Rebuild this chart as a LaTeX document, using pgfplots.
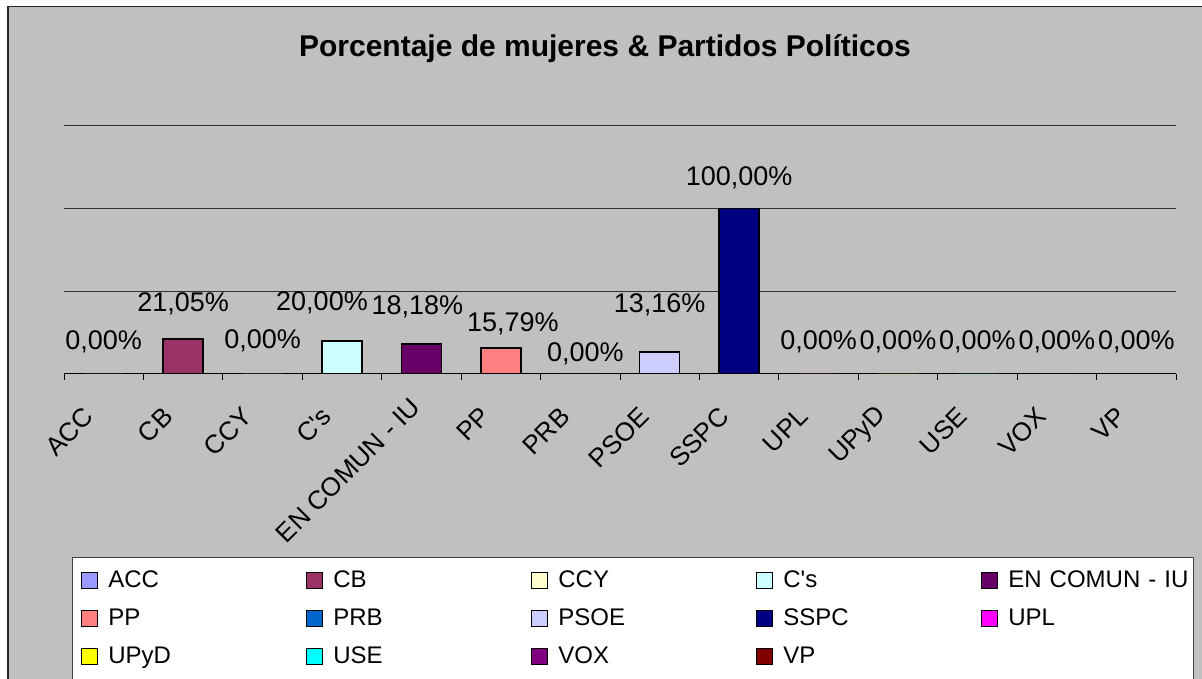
\documentclass[border=0pt]{standalone}
\usepackage{fontspec}
\setmainfont{Liberation Sans}
\usepackage{pgfplots}
\pgfplotsset{compat=1.18}
\definecolor{bg}{HTML}{C0C0C0}
\definecolor{cACC}{HTML}{9999FF}
\definecolor{cCB}{HTML}{993366}
\definecolor{cCCY}{HTML}{FFFFCC}
\definecolor{cCs}{HTML}{CCFFFF}
\definecolor{cEN}{HTML}{660066}
\definecolor{cPP}{HTML}{FF8080}
\definecolor{cPRB}{HTML}{0066CC}
\definecolor{cPSOE}{HTML}{CCCCFF}
\definecolor{cSSPC}{HTML}{000080}
\definecolor{cUPL}{HTML}{FF00FF}
\definecolor{cUPyD}{HTML}{FFFF00}
\definecolor{cUSE}{HTML}{00FFFF}
\definecolor{cVOX}{HTML}{800080}
\definecolor{cVP}{HTML}{800000}
\pgfplotsset{
  lab/.style n args={3}{nodes near coords={#1},
    every node near coord/.append style={xshift=#2, yshift=#3}},
}
\begin{document}
\begin{tikzpicture}[x=1pt,y=1pt]
\fill[white] (0,0) rectangle (1202,679);
\filldraw[fill=bg, draw=black!85, line width=1.5pt] (8,-20) rectangle (1240,672.5);
\node[anchor=base, font=\fontsize{30}{36}\selectfont\bfseries] at (605,622) {Porcentaje de mujeres \& Partidos Políticos};
\begin{axis}[
  at={(64pt,305pt)}, anchor=south west,
  scale only axis, width=1112pt, height=248pt,
  xmin=-0.5, xmax=13.5, ymin=0, ymax=150,
  enlargelimits=false,
  axis x line=bottom, axis y line=left,
  axis line style={-, black, line width=1pt},
  y axis line style={draw=none},
  ytick={50,100,150}, yticklabels={}, ytick style={draw=none},
  ymajorgrids, major grid style={black!80, line width=1pt},
  xtick={0,...,13},
  xticklabels={ACC,CB,CCY,C\textquotesingle s,EN COMUN - IU\kern-13pt,PP,PRB,PSOE,SSPC,UPL,UPyD,USE,VOX,VP},
  major x tick style={draw=none},
  minor xtick={-0.5,0.5,...,13.5},
  minor x tick style={black, line width=1pt},
  tick align=outside,
  minor tick length=6pt,
  major tick length=0pt,
  xticklabel style={font=\fontsize{26}{31}\selectfont, inner sep=0pt, xshift=-15pt, yshift=-38pt, rotate=45, anchor=east},
  ybar, bar width=40pt, bar shift=0pt,
  every node near coord/.append style={anchor=base, inner sep=0pt, font=\fontsize{27}{32}\selectfont, black},
  legend columns=5,
  legend cell align=left,
  legend style={at={(0.0072,-0.738)}, anchor=north west, draw=black!75, line width=0.8pt, fill=white,
    font=\fontsize{24}{28}\selectfont, inner xsep=2pt, inner ysep=12pt,
    nodes={inner sep=0pt, text width=183pt, text height=18pt, text depth=4pt, align=left},
    /tikz/every even column/.append style={column sep=8pt},
    row sep=16pt},
  legend image code/.code={\draw[#1, draw=black, line width=1.5pt] (0pt,-8pt) rectangle (16pt,8pt); \path[draw=none, fill=none] (-7pt,0pt) -- (27pt,0pt);},
]
\addplot[fill=cACC,  draw=none, lab={0,00\%}{0pt}{24pt}] coordinates {(0,0)};
\addplot[fill=cCB,   draw=black, line width=1.5pt, lab={21,05\%}{0pt}{28pt}] coordinates {(1,21.05)};
\addplot[fill=cCCY,  draw=none, lab={0,00\%}{0pt}{25pt}] coordinates {(2,0)};
\addplot[fill=cCs,   draw=black, line width=1.5pt, lab={20,00\%}{-20pt}{30pt}] coordinates {(3,20.00)};
\addplot[fill=cEN,   draw=black, line width=1.5pt, lab={18,18\%}{-4pt}{29pt}] coordinates {(4,18.18)};
\addplot[fill=cPP,   draw=black, line width=1.5pt, lab={15,79\%}{12pt}{16pt}] coordinates {(5,15.79)};
\addplot[fill=cPRB,  draw=none, lab={0,00\%}{5pt}{12pt}] coordinates {(6,0)};
\addplot[fill=cPSOE, draw=black, line width=1.5pt, lab={13,16\%}{0pt}{40pt}] coordinates {(7,13.16)};
\addplot[fill=cSSPC, draw=black, line width=1.5pt, lab={100,00\%}{0pt}{23pt}] coordinates {(8,100.00)};
\addplot[fill=cUPL,  draw=none, lab={0,00\%}{0pt}{24pt}] coordinates {(9,0)};
\addplot[fill=cUPyD, draw=none, lab={0,00\%}{0pt}{24pt}] coordinates {(10,0)};
\addplot[fill=cUSE,  draw=none, lab={0,00\%}{0pt}{24pt}] coordinates {(11,0)};
\addplot[fill=cVOX,  draw=none, lab={0,00\%}{0pt}{24pt}] coordinates {(12,0)};
\addplot[fill=cVP,   draw=none, lab={0,00\%}{0pt}{24pt}] coordinates {(13,0)};
\legend{ACC,CB,CCY,C\textquotesingle s,EN COMUN - IU,PP,PRB,PSOE,SSPC,UPL,UPyD,USE,VOX,VP}
\end{axis}
\pgfresetboundingbox
\useasboundingbox (0,0) rectangle (1202,679);
\end{tikzpicture}
\end{document}
